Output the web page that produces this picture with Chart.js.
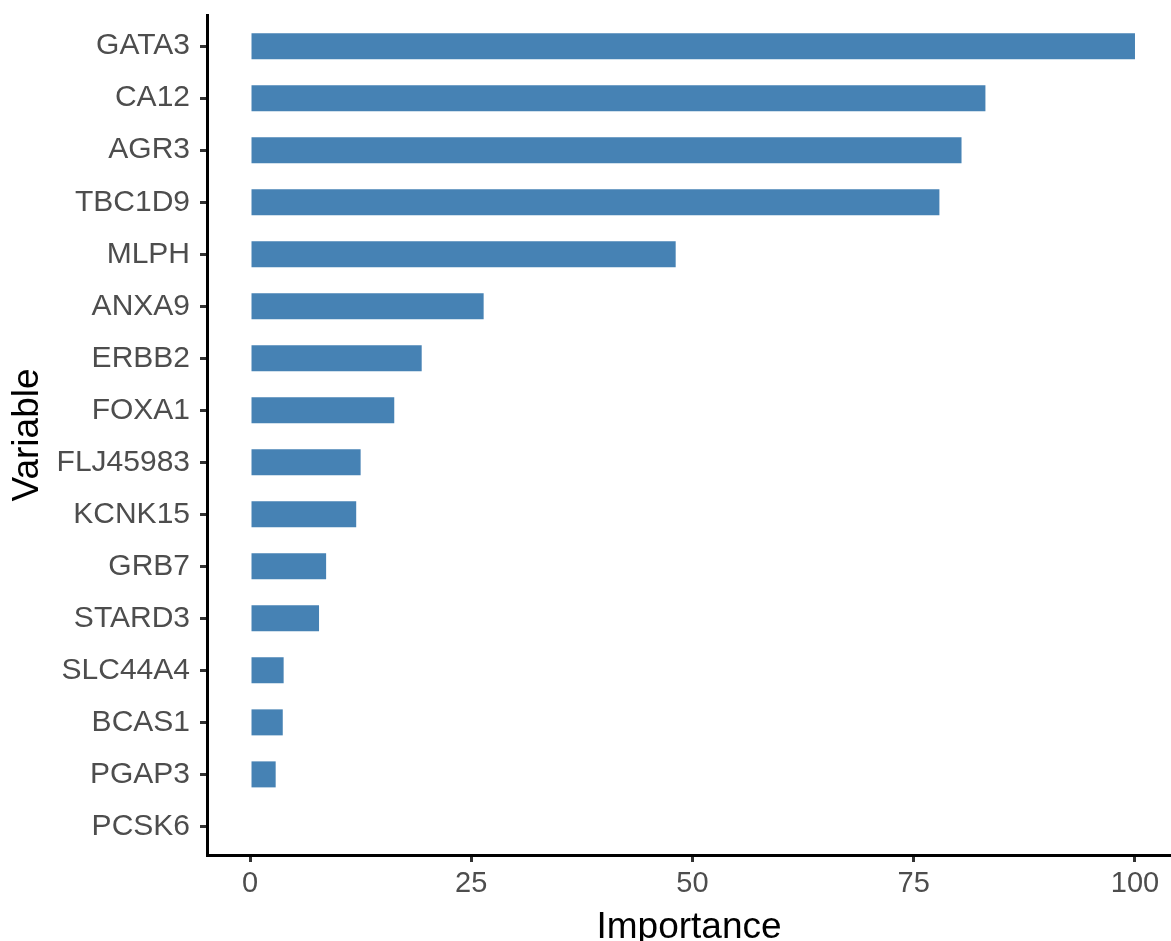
<!DOCTYPE html>
<html>
<head>
<meta charset="utf-8">
<script src="https://cdn.jsdelivr.net/npm/chart.js@4"></script>
<style>
  html, body { margin: 0; padding: 0; background: #fff; }
  #chart { display: block; }
</style>
</head>
<body>
<canvas id="chart" width="1171" height="941"></canvas>
<script>
  const variables = ['GATA3', 'CA12', 'AGR3', 'TBC1D9', 'MLPH', 'ANXA9', 'ERBB2', 'FOXA1',
    'FLJ45983', 'KCNK15', 'GRB7', 'STARD3', 'SLC44A4', 'BCAS1', 'PGAP3', 'PCSK6'];
  const importance = [100, 83.1, 80.4, 77.9, 48.1, 26.4, 19.4, 16.3,
    12.5, 12.0, 8.6, 7.8, 3.8, 3.7, 2.9, 0];
  const xTicks = [0, 25, 50, 75, 100];

  const FONT = "'Liberation Sans', Arial, sans-serif";
  const points = variables.map((v, i) => ({ x: importance[i], y: i }));

  function pinScale(width, height) {
    return s => {
      if (width != null) s.width = width;
      if (height != null) s.height = height;
      s.paddingTop = 0; s.paddingBottom = 0;
      s.paddingLeft = 0; s.paddingRight = 0;
    };
  }

  new Chart(document.getElementById('chart'), {
    type: 'bar',
    data: {
      datasets: [{
        data: points,
        backgroundColor: '#4682B4',
        borderWidth: 0,
        barPercentage: 0.5,
        categoryPercentage: 1.0
      }]
    },
    options: {
      indexAxis: 'y',
      responsive: false,
      animation: false,
      layout: { padding: { top: 15, right: 0, bottom: 0, left: 0 } },
      plugins: { legend: { display: false }, tooltip: { enabled: false } },
      scales: {
        x: {
          type: 'linear',
          min: -4.86,
          max: 104.07,
          afterBuildTicks: s => { s.ticks = xTicks.map(v => ({ value: v })); },
          afterFit: pinScale(null, 86),
          border: { display: true, color: '#000', width: 3 },
          grid: { drawOnChartArea: false, drawTicks: true, tickLength: 7, color: '#333333', lineWidth: 3 },
          ticks: { color: '#4d4d4d', font: { family: FONT, size: 29 }, padding: 5, maxRotation: 0 },
          title: {
            display: true, text: 'Importance', color: '#000',
            font: { family: FONT, size: 37, lineHeight: 1 },
            padding: { top: 0, bottom: -5 }
          }
        },
        y: {
          type: 'linear',
          reverse: true,
          offset: false,
          min: -0.6,
          max: 15.55,
          afterBuildTicks: s => { s.ticks = variables.map((v, i) => ({ value: i })); },
          afterFit: pinScale(207, null),
          border: { display: true, color: '#000', width: 3 },
          grid: { offset: false, drawOnChartArea: false, drawTicks: true, tickLength: 7, color: '#333333', lineWidth: 3 },
          ticks: {
            color: '#4d4d4d', font: { family: FONT, size: 30 }, padding: 10,
            callback: v => variables[v] ?? ''
          },
          title: {
            display: true, text: 'Variable', color: '#000',
            font: { family: FONT, size: 37, lineHeight: 1 },
            padding: { top: 9, bottom: 0 }
          }
        }
      }
    }
  });
</script>
</body>
</html>
